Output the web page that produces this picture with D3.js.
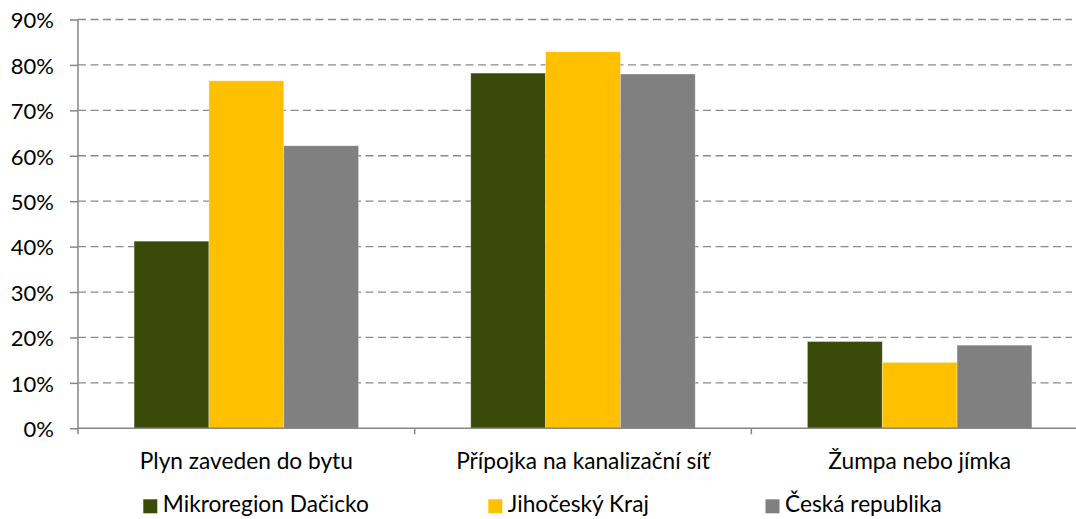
<!DOCTYPE html>
<html>
<head>
  <meta charset="utf-8">
  <script src="https://d3js.org/d3.v7.min.js"></script>
  <style>
    body { margin: 0; background: #fff; }
    svg text { font-family: Lato, "Open Sans", sans-serif; fill: #000; }
  </style>
</head>
<body>
<svg id="chart" width="1076" height="519"></svg>
<script>
  // data
  const categories = ['Plyn zaveden do bytu', 'Přípojka na kanalizační síť', 'Žumpa nebo jímka'];
  const seriesNames = ['Mikroregion Dačicko', 'Jihočeský Kraj', 'Česká republika'];
  const dacicko = [41.2, 78.2, 19.1];
  const jihocesky = [76.5, 82.9, 14.5];
  const cr = [62.2, 78.0, 18.3];
  const yTicks = [0, 10, 20, 30, 40, 50, 60, 70, 80, 90];
  const colors = ['#3b4a08', '#ffc000', '#808080'];

  const series = [dacicko, jihocesky, cr];

  const svg = d3.select('#chart');
  const plotLeft = 78, plotRight = 1088, plotTop = 19.5, plotBottom = 428.3;

  const x = d3.scaleBand().domain(categories).range([plotLeft, plotRight]).padding(0);
  // three bars of width w, 1.5w gap split on both sides
  const bw = x.bandwidth();
  const xs = d3.scaleBand().domain(seriesNames).range([bw * 0.75 / 4.5, bw * (1 - 0.75 / 4.5)]).padding(0);
  const y = d3.scaleLinear().domain([0, 90]).range([plotBottom, plotTop]);

  // grid
  svg.append('g')
    .selectAll('line')
    .data(yTicks.filter(d => d > 0))
    .join('line')
    .attr('x1', plotLeft).attr('x2', 1072)
    .attr('y1', d => y(d)).attr('y2', d => y(d))
    .attr('stroke', '#8a8a8a')
    .attr('stroke-width', 1.3)
    .attr('stroke-dasharray', '8,4.5');

  // bars
  const groups = svg.append('g')
    .selectAll('g')
    .data(series)
    .join('g')
    .attr('fill', (d, i) => colors[i]);

  groups.each(function(vals, si) {
    d3.select(this).selectAll('rect')
      .data(vals)
      .join('rect')
      .attr('x', (d, ci) => x(categories[ci]) + xs(seriesNames[si]))
      .attr('width', xs.bandwidth())
      .attr('y', d => y(d))
      .attr('height', d => y(0) - y(d))
      .attr('stroke', 'rgba(255,255,255,0.35)')
      .attr('stroke-width', 0.8);
  });

  // y axis
  const yAxis = svg.append('g')
    .attr('transform', `translate(${plotLeft},0)`)
    .call(d3.axisLeft(y).tickValues(yTicks).tickFormat(d => d + '%').tickSize(8).tickPadding(16));
  yAxis.select('.domain').attr('stroke', '#868686').attr('stroke-width', 1.5).attr('d', `M0,${plotTop}V${plotBottom + 6}`);
  yAxis.selectAll('.tick line').attr('stroke', '#868686').attr('stroke-width', 1.5);
  yAxis.selectAll('.tick text').attr('font-size', 22).attr('font-family', 'Lato, sans-serif').attr('fill', '#000').attr('dy', '0.38em');

  // x axis
  const xAxis = svg.append('g')
    .attr('transform', `translate(0,${plotBottom})`)
    .call(d3.axisBottom(x).tickSize(0));
  xAxis.select('.domain').attr('stroke', '#868686').attr('stroke-width', 1.5).attr('d', `M${plotLeft},0H1076`);
  xAxis.selectAll('.tick text').attr('font-size', 22.7).attr('font-family', 'Lato, sans-serif').attr('fill', '#000')
    .attr('dy', null).attr('y', 41);
  xAxis.selectAll('.sep')
    .data(categories.slice(1))
    .join('line')
    .attr('class', 'sep')
    .attr('x1', d => x(d)).attr('x2', d => x(d))
    .attr('y1', 0).attr('y2', 6)
    .attr('stroke', '#868686').attr('stroke-width', 1.5);

  // legend
  const legendX = [143.3, 488.3, 765.5];
  const legend = svg.append('g')
    .selectAll('g')
    .data(seriesNames)
    .join('g')
    .attr('transform', (d, i) => `translate(${legendX[i]},499.3)`);
  legend.append('rect').attr('width', 14).attr('height', 14).attr('fill', (d, i) => colors[i]);
  legend.append('text').attr('x', 19.5).attr('y', 12.5).attr('font-size', 22.7).text(d => d);
</script>
</body>
</html>
